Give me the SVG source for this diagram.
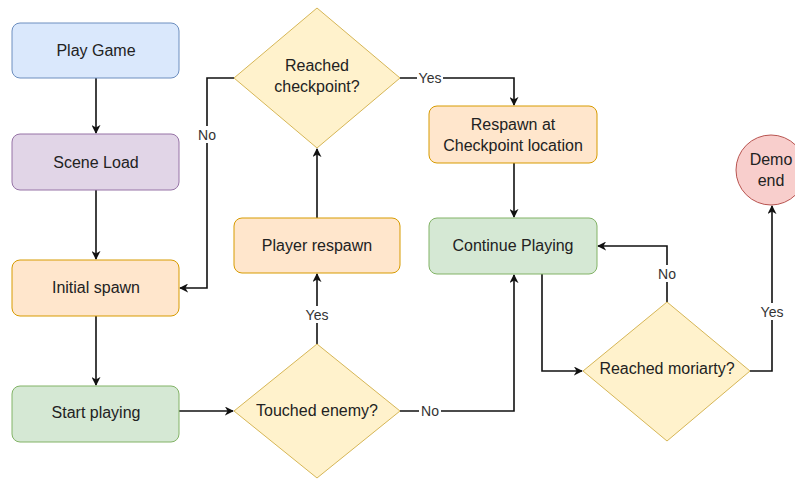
<svg xmlns="http://www.w3.org/2000/svg" width="795" height="479" viewBox="0 0 795 479">
<defs>
<marker id="arr" viewBox="0 0 10 10" refX="9" refY="5" markerWidth="9" markerHeight="9" markerUnits="userSpaceOnUse" orient="auto">
<path d="M0,0 L10,5 L0,10 L3,5 Z" fill="#111"/>
</marker>
<style>
text{font-family:"Liberation Sans",Arial,sans-serif;fill:#222;text-anchor:middle}
.t{font-size:16px}
.l{font-size:14px;fill:#333}
.e{fill:none;stroke:#111;stroke-width:1.6;marker-end:url(#arr)}
.n{fill:none;stroke:#111;stroke-width:1.6}
.blue{fill:#dae8fc;stroke:#6c8ebf}
.purple{fill:#e1d5e7;stroke:#9673a6}
.orange{fill:#ffe6cc;stroke:#d79b00}
.green{fill:#d5e8d4;stroke:#82b366}
.yellow{fill:#fff2cc;stroke:#d6b656}
.red{fill:#f8cecc;stroke:#b85450}
.lb{fill:#fff}
</style>
</defs>
<rect width="795" height="479" fill="#fff"/>
<g id="connectors">
<path class="e" d="M96,78 L96,133"/>
<path class="e" d="M96,190 L96,259"/>
<path class="e" d="M96,316 L96,385"/>
<path class="e" d="M179,411 L233,411"/>
<path class="e" d="M317,344 L317,274"/>
<path class="e" d="M317,218 L317,149"/>
<path class="e" d="M234,78 L207,78 L207,288 L180,288"/>
<path class="e" d="M400,78 L514,78 L514,105"/>
<path class="e" d="M514,163 L514,217"/>
<path class="e" d="M400,411 L514,411 L514,275"/>
<path class="e" d="M542,274 L542,371 L582,371"/>
<path class="e" d="M667,302 L667,246 L598,246"/>
<path class="e" d="M750,371 L772,371 L772,206"/>
<rect class="lb" x="196" y="126" width="22" height="17"/>
<text class="l" x="207" y="140">No</text>
<rect class="lb" x="417" y="70" width="26" height="16"/>
<text class="l" x="430" y="83">Yes</text>
<rect class="lb" x="304" y="306" width="26" height="17"/>
<text class="l" x="317" y="320">Yes</text>
<rect class="lb" x="419" y="403" width="22" height="16"/>
<text class="l" x="430" y="416">No</text>
<rect class="lb" x="656" y="265" width="22" height="17"/>
<text class="l" x="667" y="279">No</text>
<rect class="lb" x="759" y="303" width="26" height="17"/>
<text class="l" x="772" y="317">Yes</text>
</g>
<g id="play-game"><rect class="blue" x="12" y="23" width="167" height="55" rx="8"/><text class="t" x="96" y="56">Play Game</text></g>
<g id="scene-load"><rect class="purple" x="12" y="134" width="167" height="56" rx="8"/><text class="t" x="96" y="168">Scene Load</text></g>
<g id="initial-spawn"><rect class="orange" x="12" y="260" width="167" height="56" rx="8"/><text class="t" x="96" y="293">Initial spawn</text></g>
<g id="start-playing"><rect class="green" x="12" y="386" width="167" height="56" rx="8"/><text class="t" x="96" y="418">Start playing</text></g>
<g id="reached-checkpoint"><path class="yellow" d="M317,8 L400,78 L317,148 L234,78 Z"/><text class="t" x="317" y="71">Reached</text><text class="t" x="317" y="92">checkpoint?</text></g>
<g id="player-respawn"><rect class="orange" x="234" y="218" width="166" height="55" rx="8"/><text class="t" x="317" y="251">Player respawn</text></g>
<g id="touched-enemy"><path class="yellow" d="M317,344 L400,411 L317,478 L234,411 Z"/><text class="t" x="317" y="416">Touched enemy?</text></g>
<g id="respawn-checkpoint"><rect class="orange" x="429" y="106" width="168" height="57" rx="8"/><text class="t" x="513" y="130">Respawn at</text><text class="t" x="513" y="151">Checkpoint location</text></g>
<g id="continue-playing"><rect class="green" x="429" y="218" width="168" height="56" rx="8"/><text class="t" x="513" y="251">Continue Playing</text></g>
<g id="reached-moriarty"><path class="yellow" d="M667,302 L750,371 L667,441 L583,371 Z"/><text class="t" x="667" y="374">Reached moriarty?</text></g>
<g id="demo-end"><circle class="red" cx="771" cy="170" r="35"/><text class="t" x="771" y="165">Demo</text><text class="t" x="771" y="186">end</text></g>
</svg>
